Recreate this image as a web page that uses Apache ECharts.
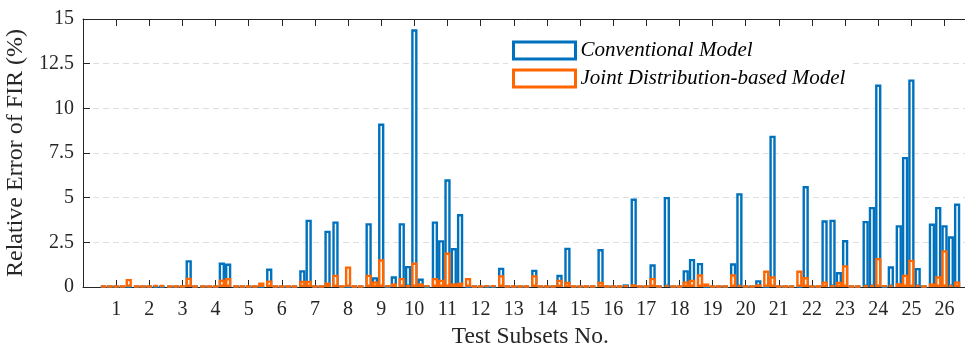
<!DOCTYPE html>
<html>
<head>
<meta charset="utf-8">
<script src="https://cdn.jsdelivr.net/npm/echarts@6/dist/echarts.min.js"></script>
<style>
  html, body { margin: 0; padding: 0; background: #fff; }
  #chart { width: 965px; height: 345px; }
</style>
</head>
<body>
<div id="chart"></div>
<script>
// 26 test subsets, 5 test cases each (one row per subset)
const subsets = ["1","2","3","4","5","6","7","8","9","10","11","12","13",
  "14","15","16","17","18","19","20","21","22","23","24","25","26"];

const conventional = [
  [0.03, 0.03, 0.03, 0.03, 0.03],
  [0.03, 0.03, 0.03, 0.03, 0.03],
  [0.03, 0.03, 0.03, 1.50, 0.03],
  [0.03, 0.03, 0.03, 1.37, 1.31],
  [0.03, 0.03, 0.03, 0.03, 0.03],
  [1.03, 0.03, 0.03, 0.03, 0.03],
  [0.94, 3.77, 0.03, 0.03, 3.15],
  [3.67, 0.03, 0.03, 0.03, 0.03],
  [3.57, 0.55, 9.15, 0.03, 0.60],
  [3.57, 1.18, 14.42, 0.47, 0.03],
  [3.67, 2.62, 6.03, 2.18, 4.08],
  [0.03, 0.03, 0.03, 0.03, 0.03],
  [1.08, 0.03, 0.03, 0.03, 0.03],
  [0.97, 0.03, 0.03, 0.03, 0.68],
  [2.20, 0.03, 0.03, 0.03, 0.03],
  [2.12, 0.03, 0.03, 0.03, 0.15],
  [4.95, 0.03, 0.03, 1.27, 0.03],
  [5.04, 0.03, 0.03, 0.94, 1.57],
  [1.35, 0.03, 0.03, 0.03, 0.03],
  [1.33, 5.25, 0.03, 0.03, 0.38],
  [0.03, 8.47, 0.03, 0.03, 0.03],
  [0.03, 5.65, 0.03, 0.03, 3.73],
  [3.77, 0.84, 2.63, 0.03, 0.03],
  [3.70, 4.48, 11.33, 0.03, 1.16],
  [3.46, 7.28, 11.62, 1.07, 0.03],
  [3.55, 4.48, 3.46, 2.84, 4.67]
];

const jointDist = [
  [0.05, 0.05, 0.05, 0.05, 0.45],
  [0.05, 0.05, 0.05, 0.12, 0.12],
  [0.05, 0.05, 0.05, 0.52, 0.05],
  [0.05, 0.05, 0.05, 0.42, 0.50],
  [0.05, 0.05, 0.05, 0.05, 0.25],
  [0.37, 0.05, 0.05, 0.05, 0.05],
  [0.35, 0.35, 0.05, 0.05, 0.25],
  [0.69, 0.05, 1.15, 0.05, 0.05],
  [0.69, 0.31, 1.55, 0.10, 0.20],
  [0.51, 0.10, 1.37, 0.20, 0.10],
  [0.51, 0.41, 1.93, 0.20, 0.25],
  [0.51, 0.05, 0.05, 0.10, 0.10],
  [0.66, 0.05, 0.05, 0.05, 0.05],
  [0.66, 0.05, 0.05, 0.05, 0.41],
  [0.30, 0.05, 0.05, 0.05, 0.05],
  [0.30, 0.05, 0.05, 0.05, 0.10],
  [0.15, 0.05, 0.05, 0.51, 0.05],
  [0.13, 0.05, 0.05, 0.31, 0.41],
  [0.71, 0.20, 0.05, 0.05, 0.05],
  [0.71, 0.13, 0.05, 0.05, 0.15],
  [0.92, 0.60, 0.05, 0.05, 0.05],
  [0.92, 0.56, 0.05, 0.05, 0.31],
  [0.10, 0.30, 1.22, 0.05, 0.05],
  [0.10, 0.13, 1.62, 0.10, 0.13],
  [0.22, 0.69, 1.53, 0.13, 0.05],
  [0.20, 0.60, 2.06, 0.13, 0.31]
];

const yTicks = [0, 2.5, 5, 7.5, 10, 12.5, 15];

const BLUE = "#0072bd";
const ORANGE = "#ff6600";
const AXIS = "#262626";
const FONT = "Liberation Serif, Times New Roman, serif";

// x limits run from 0 to 27 like the original figure, so pad both ends
const categories = [""].concat(subsets, [""]);

const chart = echarts.init(document.getElementById("chart"));

function buildSeries(rows, name, color, axisIndex) {
  const out = [];
  for (let k = 0; k < 5; k++) {
    out.push({
      name: name,
      type: "bar",
      xAxisIndex: axisIndex,
      data: ["-"].concat(rows.map((r) => r[k]), ["-"]),
      barGap: "0%",
      barCategoryGap: "5%",
      z: axisIndex === 0 ? 2 : 3,
      itemStyle: { color: "#ffffff", borderColor: color, borderWidth: 2.4 },
      emphasis: { disabled: true },
    });
  }
  return out;
}

const series = buildSeries(conventional, "Conventional Model", BLUE, 0)
  .concat(buildSeries(jointDist, "Joint Distribution-based Model", ORANGE, 1));

const option = {
  animation: false,
  textStyle: { fontFamily: FONT },
  grid: {
    left: 83,
    top: 19,
    width: 27 * 33.135,
    bottom: 58,
    containLabel: false,
    outerBoundsMode: "none",
  },
  legend: {
    data: ["Conventional Model", "Joint Distribution-based Model"],
    orient: "vertical",
    left: 508,
    top: 35,
    icon: "rect",
    itemWidth: 62,
    itemHeight: 17,
    itemGap: 7,
    padding: [5, 8, 5, 4],
    backgroundColor: "#ffffff",
    itemStyle: { borderWidth: 3 },
    textStyle: { fontFamily: FONT, fontStyle: "italic", fontSize: 21, color: "#000" },
  },
  xAxis: [
    {
      type: "category",
      data: categories,
      boundaryGap: false,
      position: "bottom",
      name: "Test Subsets No.",
      nameLocation: "middle",
      nameGap: 34,
      nameTextStyle: { fontFamily: FONT, fontSize: 23.5, color: AXIS },
      axisLine: { lineStyle: { color: AXIS, width: 1 } },
      axisTick: { inside: true, length: 7, interval: 0, lineStyle: { color: AXIS } },
      axisLabel: { interval: 0, margin: 13, fontFamily: FONT, fontSize: 20, color: AXIS },
      splitLine: { show: false },
    },
    {
      type: "category",
      data: categories,
      boundaryGap: false,
      position: "top",
      axisLine: { lineStyle: { color: AXIS, width: 1 } },
      axisTick: { inside: true, length: 7, interval: 0, lineStyle: { color: AXIS } },
      axisLabel: { show: false },
      splitLine: { show: false },
    },
  ],
  yAxis: {
    type: "value",
    min: yTicks[0],
    max: yTicks[yTicks.length - 1],
    interval: 2.5,
    name: "Relative Error of FIR (%)",
    nameLocation: "middle",
    nameGap: 50,
    nameTextStyle: { fontFamily: FONT, fontSize: 24, color: AXIS },
    axisLine: { show: true, lineStyle: { color: AXIS, width: 1 } },
    axisTick: { show: true, inside: true, length: 7, lineStyle: { color: AXIS } },
    axisLabel: { margin: 9, fontFamily: FONT, fontSize: 20, color: AXIS },
    splitLine: {
      show: true,
      lineStyle: { type: [6, 4], color: "#dedede", width: 1 },
    },
  },
  series: series,
};

chart.setOption(option);
</script>
</body>
</html>
